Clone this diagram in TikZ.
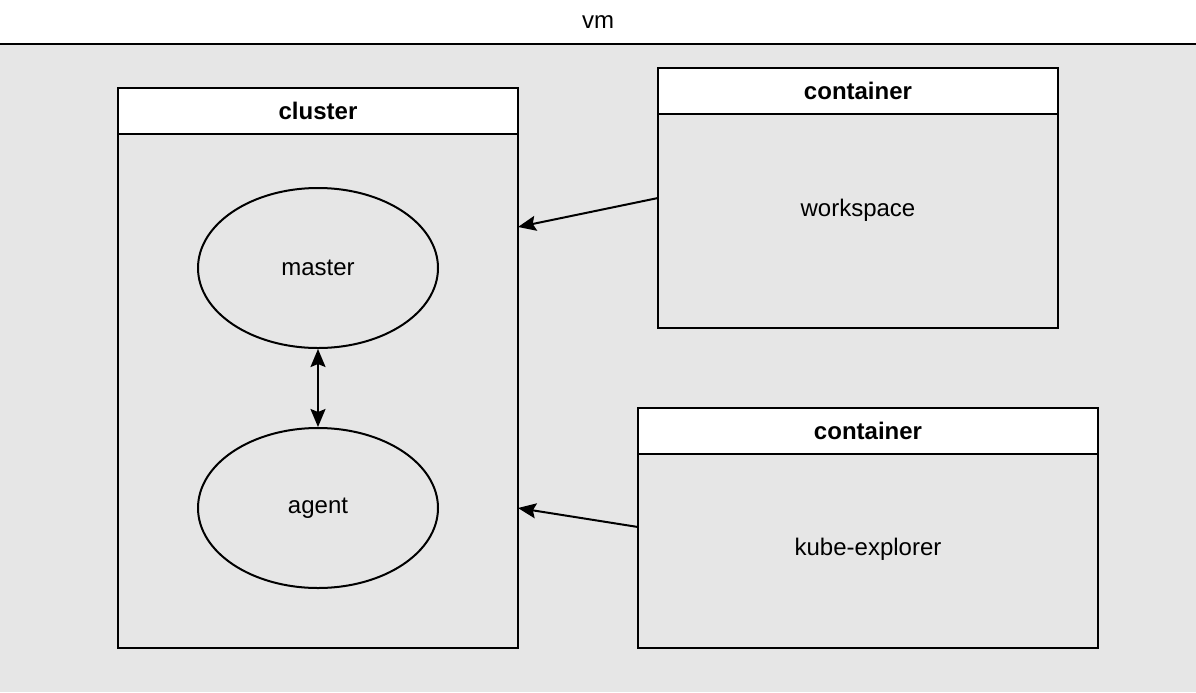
\documentclass[tikz,border=0pt]{standalone}
\usepackage{fontspec}
\setmainfont{Liberation Sans}
\usetikzlibrary{calc, shapes.geometric, arrows.meta, positioning}
\definecolor{vmgray}{HTML}{E6E6E6}

\tikzset{
	box/.style={draw, line width=1pt, fill=white, inner sep=0pt, outer sep=0pt},
	boxbody/.style={draw, line width=1pt, inner sep=0pt, outer sep=0pt},
	hd/.style={box, font=\fontsize{12}{14}\selectfont\bfseries},
	pod/.style={draw, ellipse, line width=1pt, inner sep=0pt, minimum width=120pt, minimum height=80pt},
	link/.style={line width=1pt, >={Stealth[length=9pt, width=7.5pt, inset=1.5pt]}}
}

\begin{document}
\begin{tikzpicture}[x=0.5pt, y=-0.5pt, font=\fontsize{12}{14}\selectfont]
	% frame of the vm
	\useasboundingbox (0,0) rectangle (1196,692);
	\fill[vmgray] (0,44) rectangle (1196,692);
	\draw[line width=1pt] (0,44) -- (1196,44);
	\node (vm) at (598,22) {vm};

	% cluster
	\node[hd, minimum width=200pt, minimum height=23pt] (clhead) at (318,111) {cluster};
	\node[boxbody, minimum width=200pt, minimum height=257pt, anchor=north] (clbody) at (clhead.south) {};
	\node[pod] (master) at (318,268) {master};
	\node[pod] (agent) at (318,508) {agent};
	\draw[link, <->] (master) -- (agent);

	% containers
	\node[hd, minimum width=200pt, minimum height=23pt] (wshead) at (858,91) {container};
	\node[boxbody, minimum width=200pt, minimum height=107pt, anchor=north] (wsbody) at (wshead.south) {};
	\node (ws) at (858,210) {workspace};

	\node[hd, minimum width=230pt, minimum height=23pt] (kehead) at (868,431) {container};
	\node[boxbody, minimum width=230pt, minimum height=97pt, anchor=north] (kebody) at (kehead.south) {};
	\node (ke) at (868,549) {kube-explorer};

	\draw[link, ->] ($(wsbody.west)+(0,-23)$) -- ($(clbody.east)+(0,-164)$);
	\draw[link, ->] ($(kebody.west)+(0,-24)$) -- ($(clbody.east)+(0,117)$);
\end{tikzpicture}
\end{document}
